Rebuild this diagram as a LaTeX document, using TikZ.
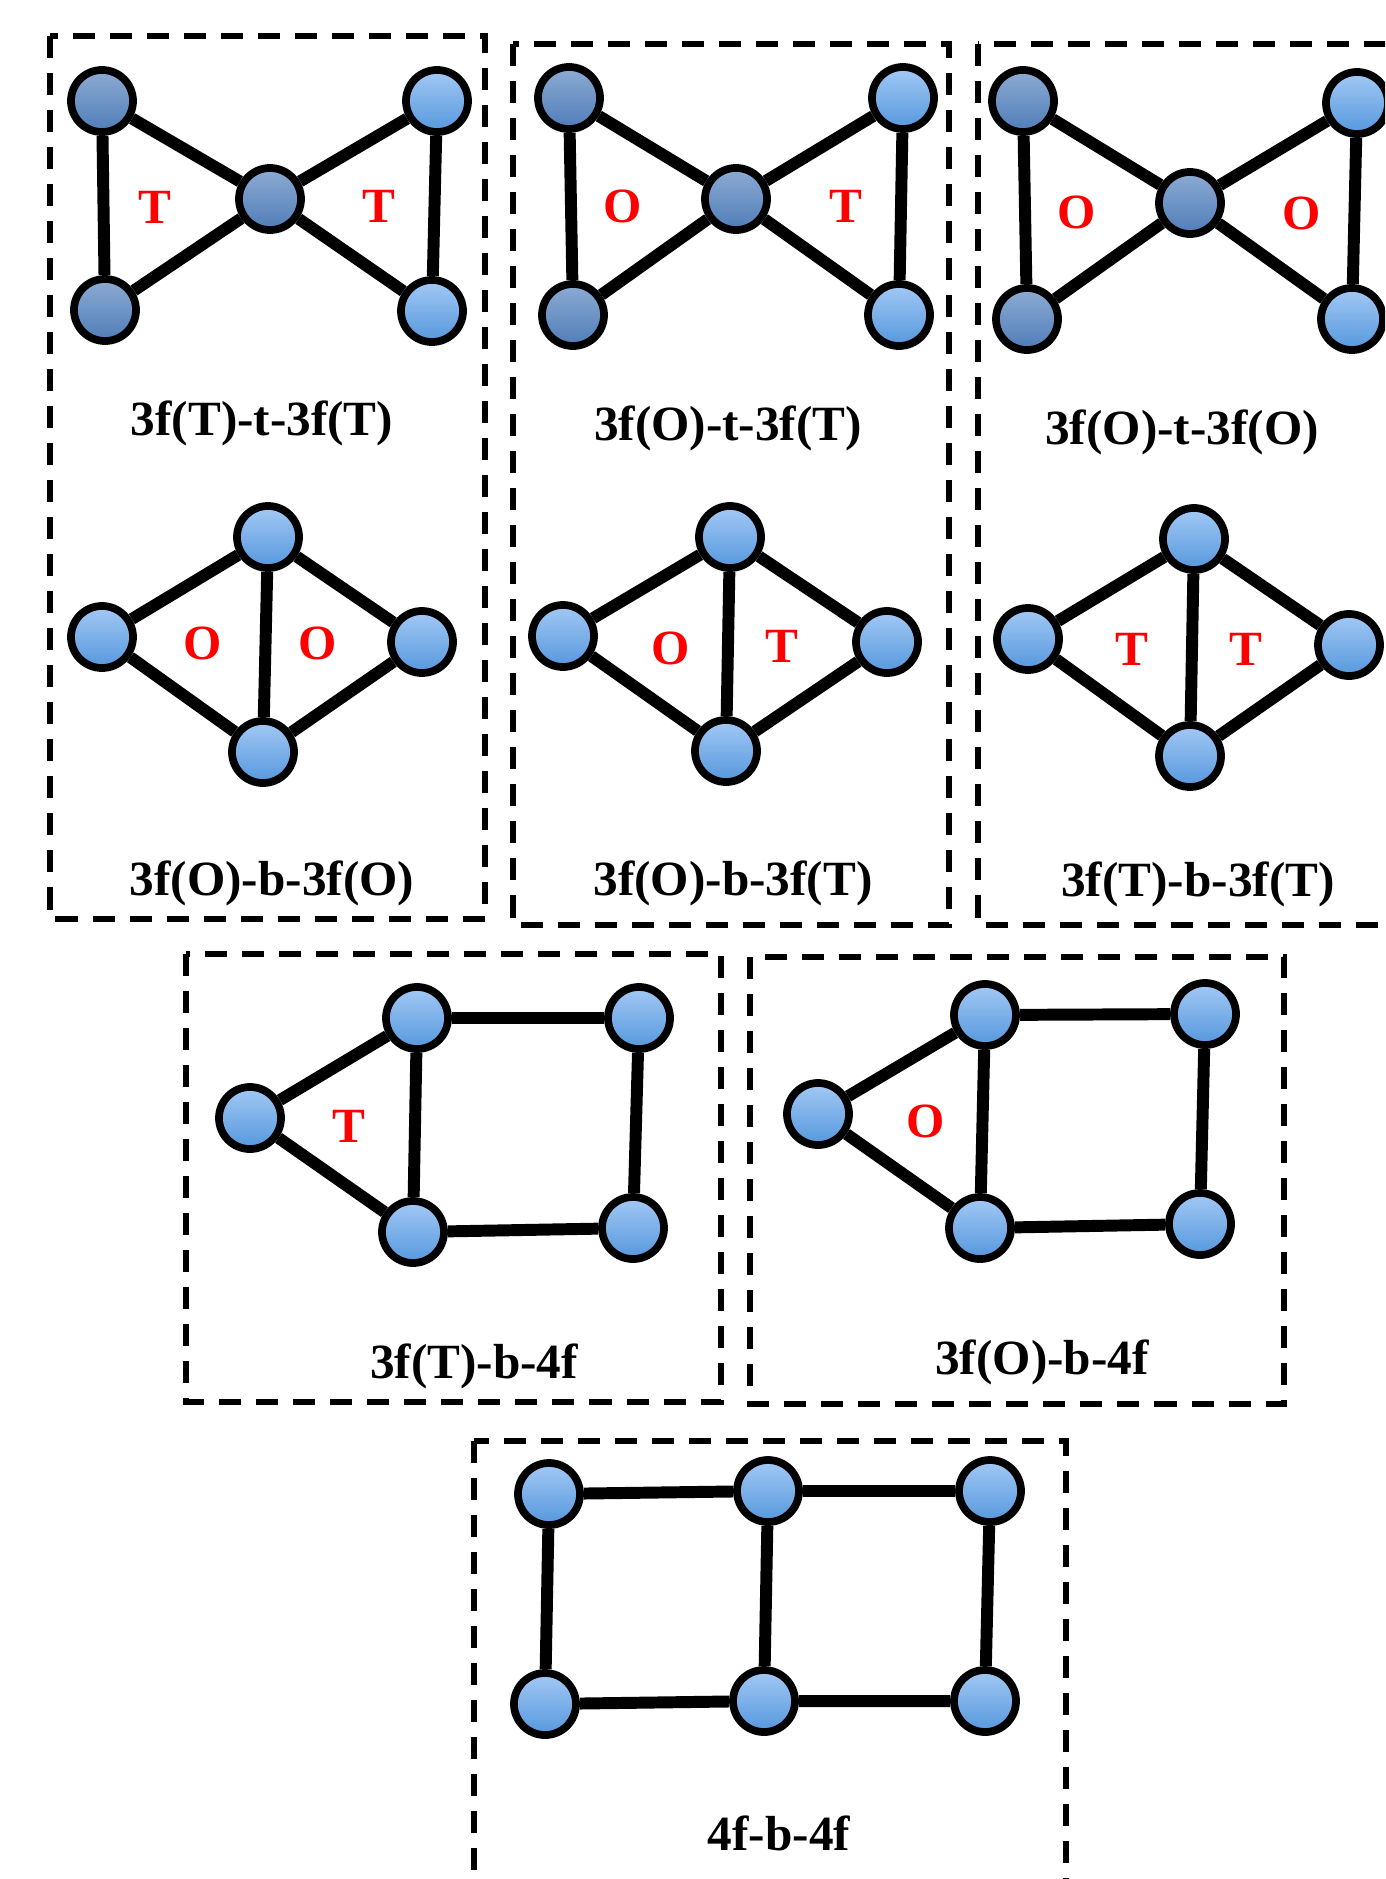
\documentclass[tikz,border=0pt]{standalone}
\usepackage{fontspec}
\setmainfont{Liberation Serif}
\usepackage{tikz}
\usepackage{color}
\definecolor{dtop}{HTML}{8DABD3}
\definecolor{dbot}{HTML}{4F7DB8}
\definecolor{ltop}{HTML}{A3C9F5}
\definecolor{lbot}{HTML}{5597DD}

\begin{document}
\begin{tikzpicture}[x=0.01cm, y=-0.01cm,
        ball/.style={circle, draw=black, line width=2.2pt, minimum size=0.62cm, inner sep=0pt},
        dball/.style={ball, top color=dtop, bottom color=dbot},
        lball/.style={ball, top color=ltop, bottom color=lbot},
        bond/.style={line width=3.4pt},
        frame/.style={line width=1.5pt, dash pattern=on 0.22cm off 0.15cm},
        face/.style={text=red, font=\fontsize{14}{16}\selectfont\bfseries},
        capt/.style={font=\fontsize{14}{16}\selectfont\bfseries}]
            \path[use as bounding box] (0,0) rectangle (1385,1879);
            \clip (0,0) rectangle (1385,1879);

            \draw[frame] (50,36) rectangle (485,919);
            \draw[frame] (513,44) rectangle (949,925);
            \draw[frame] (978,44) rectangle (1430,925);
            \draw[frame] (186,954) rectangle (721,1402);
            \draw[frame] (750,957) rectangle (1284,1404);
            \draw[frame] (474,1441) rectangle (1066,1930);

            \node[dball] (A1) at (102,101) {};
            \node[dball] (A2) at (105,310) {};
            \node[dball] (A3) at (270,199) {};
            \node[lball] (A4) at (437,101) {};
            \node[lball] (A5) at (432,311) {};
            \draw[bond] (A1) -- (A2) -- (A3) -- (A1);
            \draw[bond] (A3) -- (A4) -- (A5) -- (A3);
            \node[face] (tA1) at (155,207) {T};
            \node[face] (tA2) at (379,206) {T};
            \node[capt] (nA) at (262,423) {3f(T)-t-3f(T)};

            \node[lball] (B1) at (268,537) {};
            \node[lball] (B2) at (102,637) {};
            \node[lball] (B3) at (422,642) {};
            \node[lball] (B4) at (263,752) {};
            \draw[bond] (B1) -- (B2) -- (B4) -- (B3) -- (B1) -- (B4);
            \node[face] (tB1) at (203,643) {O};
            \node[face] (tB2) at (318,643) {O};
            \node[capt] (nB) at (272,883) {3f(O)-b-3f(O)};

            \node[dball] (C1) at (569,98) {};
            \node[dball] (C2) at (573,315) {};
            \node[dball] (C3) at (736,199) {};
            \node[lball] (C4) at (903,98) {};
            \node[lball] (C5) at (899,315) {};
            \draw[bond] (C1) -- (C2) -- (C3) -- (C1);
            \draw[bond] (C3) -- (C4) -- (C5) -- (C3);
            \node[face] (tC1) at (623,206) {O};
            \node[face] (tC2) at (846,206) {T};
            \node[capt] (nC) at (728,428) {3f(O)-t-3f(T)};

            \node[lball] (D1) at (730,537) {};
            \node[lball] (D2) at (563,636) {};
            \node[lball] (D3) at (887,642) {};
            \node[lball] (D4) at (726,751) {};
            \draw[bond] (D1) -- (D2) -- (D4) -- (D3) -- (D1) -- (D4);
            \node[face] (tD1) at (671,648) {O};
            \node[face] (tD2) at (782,646) {T};
            \node[capt] (nD) at (733,883) {3f(O)-b-3f(T)};

            \node[dball] (E1) at (1023,101) {};
            \node[dball] (E2) at (1027,319) {};
            \node[dball] (E3) at (1190,203) {};
            \node[lball] (E4) at (1357,103) {};
            \node[lball] (E5) at (1352,319) {};
            \draw[bond] (E1) -- (E2) -- (E3) -- (E1);
            \draw[bond] (E3) -- (E4) -- (E5) -- (E3);
            \node[face] (tE1) at (1077,212) {O};
            \node[face] (tE2) at (1302,213) {O};
            \node[capt] (nE) at (1182,432) {3f(O)-t-3f(O)};

            \node[lball] (G1) at (1194,539) {};
            \node[lball] (G2) at (1028,639) {};
            \node[lball] (G3) at (1349,645) {};
            \node[lball] (G4) at (1190,756) {};
            \draw[bond] (G1) -- (G2) -- (G4) -- (G3) -- (G1) -- (G4);
            \node[face] (tG1) at (1132,649) {T};
            \node[face] (tG2) at (1246,649) {T};
            \node[capt] (nG) at (1198,884) {3f(T)-b-3f(T)};

            \node[lball] (H1) at (250,1118) {};
            \node[lball] (H2) at (417,1018) {};
            \node[lball] (H3) at (639,1018) {};
            \node[lball] (H4) at (633,1228) {};
            \node[lball] (H5) at (413,1232) {};
            \draw[bond] (H1) -- (H2) -- (H3) -- (H4) -- (H5) -- (H1);
            \draw[bond] (H2) -- (H5);
            \node[face] (tH) at (349,1126) {T};
            \node[capt] (nH) at (474,1366) {3f(T)-b-4f};

            \node[lball] (K1) at (818,1114) {};
            \node[lball] (K2) at (985,1015) {};
            \node[lball] (K3) at (1205,1014) {};
            \node[lball] (K4) at (1200,1224) {};
            \node[lball] (K5) at (980,1228) {};
            \draw[bond] (K1) -- (K2) -- (K3) -- (K4) -- (K5) -- (K1);
            \draw[bond] (K2) -- (K5);
            \node[face] (tK) at (926,1121) {O};
            \node[capt] (nK) at (1042,1362) {3f(O)-b-4f};

            \node[lball] (M1) at (549,1494) {};
            \node[lball] (M2) at (768,1491) {};
            \node[lball] (M3) at (990,1491) {};
            \node[lball] (M4) at (545,1704) {};
            \node[lball] (M5) at (764,1701) {};
            \node[lball] (M6) at (985,1701) {};
            \draw[bond] (M1) -- (M2) -- (M3) -- (M6) -- (M5) -- (M4) -- (M1);
            \draw[bond] (M2) -- (M5);
            \node[capt] (nM) at (779,1833) {4f-b-4f};
        \end{tikzpicture}
\end{document}
